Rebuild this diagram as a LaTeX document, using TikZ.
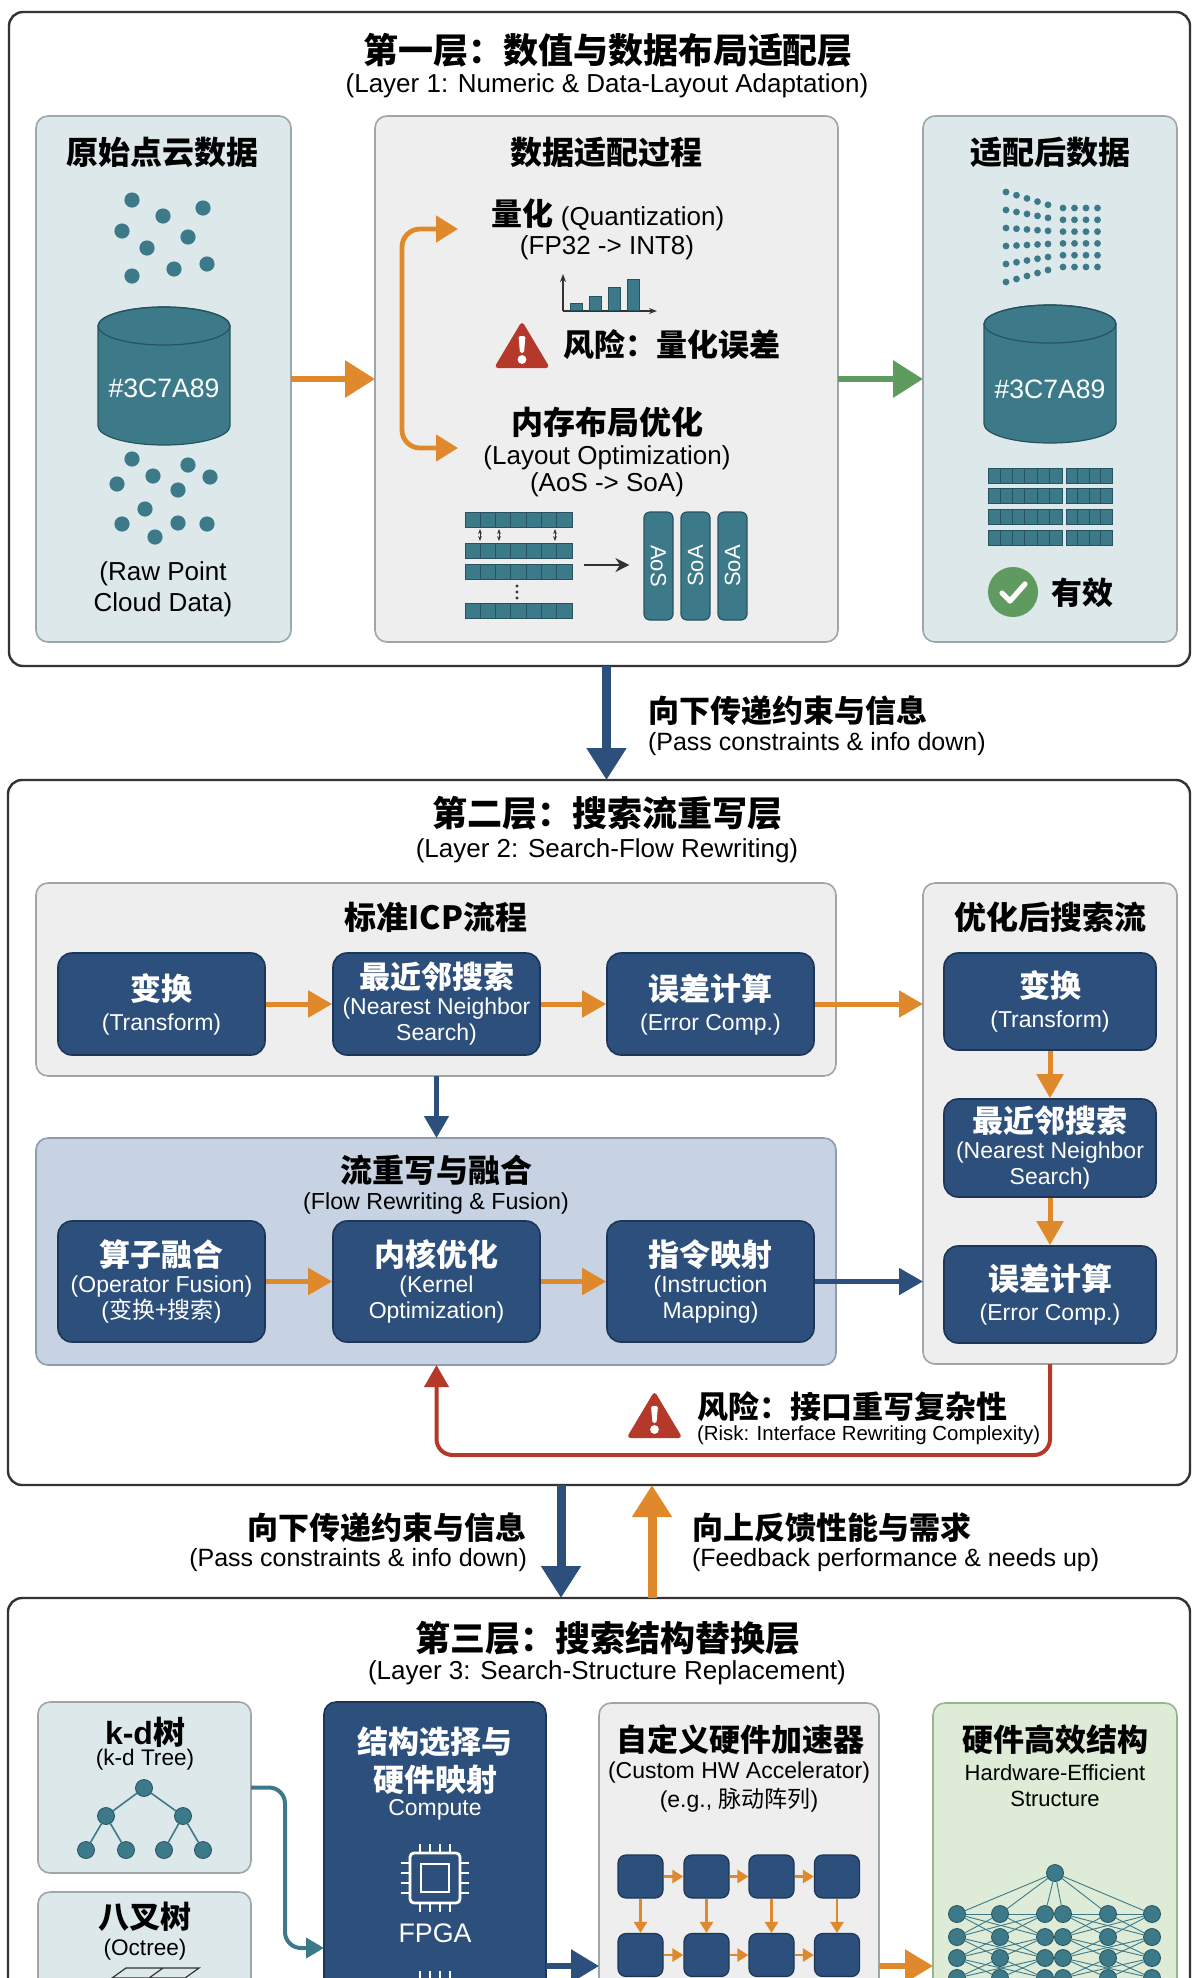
\documentclass[tikz,border=0pt]{standalone}
\usepackage{fontspec}
\setmainfont{Liberation Sans}
\newfontfamily\zhfont{Noto Sans CJK SC}
\usetikzlibrary{arrows.meta,calc,fit,positioning}

\definecolor{lyink}{HTML}{333333}
\definecolor{lyteal}{HTML}{3C7A89}
\definecolor{lytealdark}{HTML}{27535F}
\definecolor{lynavy}{HTML}{2D4F7C}
\definecolor{lynavyedge}{HTML}{1D3557}
\definecolor{lyorange}{HTML}{E0892C}
\definecolor{lygreen}{HTML}{5F9A5F}
\definecolor{lyred}{HTML}{B5392B}
\definecolor{lypanelblue}{HTML}{DDE8EB}
\definecolor{lypanelgrey}{HTML}{EEEEEE}
\definecolor{lyedge}{HTML}{9DA7AB}
\definecolor{lyfusion}{HTML}{C7D2E2}
\definecolor{lyfusionedge}{HTML}{8E9BB0}
\definecolor{lypanelgreen}{HTML}{DDEBD7}
\definecolor{lygreenedge}{HTML}{94B58E}

\newcommand\fsz[2]{\fontsize{#1}{#2}\selectfont}
\newcommand\zhb[1]{{\zhfont\bfseries #1}}

\tikzset{
  layerbox/.style={draw=lyink,line width=1.2pt,fill=white,rounded corners=7pt,
    inner sep=0pt,outer sep=0pt},
  panel/.style={draw=lyedge,line width=0.8pt,rounded corners=6pt,inner sep=0pt,outer sep=0pt},
  bluepanel/.style={panel,fill=lypanelblue},
  greypanel/.style={panel,fill=lypanelgrey},
  fusepanel/.style={panel,fill=lyfusion,draw=lyfusionedge},
  greenpanel/.style={panel,fill=lypanelgreen,draw=lygreenedge},
  navypanel/.style={panel,fill=lynavy,draw=lynavyedge},
  layertitle/.style={font=\zhfont\bfseries\fsz{17.5}{20},text=black},
  layersub/.style={font=\fsz{13}{15},text=black},
  paneltitle/.style={font=\zhfont\bfseries\fsz{16}{19},text=black},
  zhlabel/.style={font=\zhfont\bfseries\fsz{15.5}{18},text=black},
  enlabel/.style={font=\fsz{13}{15.5},text=black},
  dbtag/.style={font=\fsz{13.3}{15},text=white},
  stage/.style={draw=lynavyedge,fill=lynavy,line width=0.8pt,rounded corners=7pt,
    text=white,align=center,inner sep=0pt,minimum width=103.5pt,minimum height=51pt,
    font=\fsz{11.5}{13}},
  soa/.style={fill=lyteal,draw=lytealdark,line width=0.6pt,rounded corners=3pt,
    minimum width=54pt,minimum height=14.5pt,inner sep=0pt,text=white,
    font=\fsz{11}{12}},
  pe/.style={fill=lynavy,draw=lynavyedge,line width=0.6pt,rounded corners=4pt,
    minimum width=22.5pt,minimum height=21.5pt,inner sep=0pt},
  nnode/.style={circle,fill=lyteal,draw=lytealdark,line width=0.4pt,
    minimum size=8.5pt,inner sep=0pt},
  treenode/.style={nnode,minimum size=8.5pt},
  nnlink/.style={draw=lyteal,line width=0.45pt},
  bigflow/.style={draw=lyorange,line width=3.2pt,-{Triangle[length=15pt,width=18pt]}},
  flow/.style={draw=lyorange,line width=2.5pt,-{Triangle[length=12pt,width=13pt]}},
  peflow/.style={draw=lyorange,line width=1.3pt,-{Triangle[length=5.5pt,width=6.5pt]}},
  pass/.style={draw=lynavy,line width=4.5pt,-{Triangle[length=16pt,width=19pt]}},
  navyflow/.style={draw=lynavy,line width=2.5pt,-{Triangle[length=12pt,width=13pt]}},
  feedback/.style={draw=lyred,line width=2pt,rounded corners=8pt,
    -{Triangle[length=11pt,width=12pt]}},
  link/.style={draw=lyteal,line width=2pt,rounded corners=8pt,
    -{Triangle[length=9pt,width=10pt]}},
  dbstore/.pic={
    \path[fill=lyteal,draw=lytealdark,line width=0.6pt] (-66,-50) -- (-66,50)
      arc[start angle=180,end angle=360,x radius=33pt,y radius=9.5pt] -- (66,-50)
      arc[start angle=0,end angle=180,x radius=33pt,y radius=9.5pt] -- cycle;
    \draw[lytealdark,line width=0.6pt] (0,-50) ellipse[x radius=33pt,y radius=9.5pt];
  },
  warnsign/.pic={
    \fill[lyred,rounded corners=2pt] (-28,23) -- (28,23) -- (0,-24) -- cycle;
    \fill[white,rounded corners=0.8pt] (-3.5,-9) -- (3.5,-9) -- (2,8) -- (-2,8) -- cycle;
    \fill[white] (0,14.5) circle[radius=2.2pt];
  },
  okmark/.pic={
    \fill[lygreen] (0,0) circle[radius=12.5pt];
    \draw[white,line width=2.6pt,line cap=round,line join=round] (-11,1) -- (-3,9) -- (12,-8);
  },
  chip/.pic={
    \draw[white,line width=1.4pt,rounded corners=2pt] (-25,-25) rectangle (25,25);
    \draw[white,line width=1.4pt] (-14,-14) rectangle (14,14);
    \foreach \t in {-15,-5,5,15}
      \draw[white,line width=1.2pt] (\t,-25) -- (\t,-34) (\t,25) -- (\t,34)
        (-25,\t) -- (-34,\t) (25,\t) -- (34,\t);
  },
}

\begin{document}
\begin{tikzpicture}[x=0.5pt,y=-0.5pt]
  \useasboundingbox (0,0) rectangle (1195,1978);
  \clip (0,0) rectangle (1195,1978);
  \fill[white] (0,0) rectangle (1195,1978);

  % ---------------- layer 1 ----------------
  \node[layerbox,fit={(9,12) (1190,666)}] (L1) {};
  \node[layertitle] (t1) at (608,50) {第一层：数值与数据布局适配层};
  \node[layersub] (s1) at (607,86) {(Layer 1: Numeric \& Data-Layout Adaptation)};

  \node[bluepanel,fit={(36,116) (291,642)}] (raw) {};
  \node[greypanel,fit={(375,116) (838,642)}] (adapt) {};
  \node[bluepanel,fit={(923,116) (1177,642)}] (adapted) {};
  \node[paneltitle] (rawtitle) at (163,152) {原始点云数据};
  \node[paneltitle] (adapttitle) at (606,152) {数据适配过程};
  \node[paneltitle] (adaptedtitle) at (1050,152) {适配后数据};

  % scattered points around the raw store
  \foreach \x/\y in {132/200,163/216,203/208,122/231,188/237,147/248,132/276,174/269,207/264,
      132/459,153/476,188/465,210/477,117/484,178/490,145/509,178/523,122/524,155/537,207/524}
    \fill[lyteal] (\x,\y) circle[radius=3.8pt];
  \pic at (164,376) {dbstore};
  \node[dbtag] (rawtag) at (164,388) {\#3C7A89};
  \node[enlabel,align=center] (rawen) at (163,589) {(Raw Point\\Cloud Data)};

  \draw[bigflow] (raw) -- (adapt);
  \draw[bigflow,draw=lygreen] (adapt) -- (adapted);

  % quantization branch
  \node[enlabel] (quant) at (608,215) {\zhb{\fsz{15.5}{18}量化} (Quantization)};
  \node[enlabel] (fp) at (607,248) {(FP32 -> INT8)};
  \draw[lyink,line width=0.7pt,-{Stealth[length=4pt]}] (563,311) -- (563,274);
  \draw[lyink,line width=0.7pt,-{Stealth[length=4pt]}] (563,311) -- (657,311);
  \foreach \x/\t in {570/303,589/296,608/287,627/279}
    \draw[fill=lyteal,draw=lytealdark,line width=0.4pt] (\x,\t) rectangle (\x+12,310);
  \pic at (522,345) {warnsign};
  \node[zhlabel,anchor=west] (qrisk) at (556,345) {风险：量化误差};

  % layout branch
  \node[zhlabel,font=\zhfont\bfseries\fsz{16}{18}] (layout) at (607,422) {内存布局优化};
  \node[enlabel] (layouten) at (607,458) {(Layout Optimization)};
  \node[enlabel] (aos) at (607,485) {(AoS -> SoA)};
  \coordinate (qin) at (458,229);
  \coordinate (lin) at (458,448);
  \draw[flow,line width=2.4pt,{Triangle[length=11pt,width=13pt]}-{Triangle[length=11pt,width=13pt]},
    rounded corners=9pt] (qin) -| (402,340) |- (lin);

  \foreach \y in {512,543,564,603} {
    \draw[fill=lyteal,draw=lytealdark,line width=0.5pt] (465,\y) rectangle (572,\y+15);
    \foreach \i in {1,...,6}
      \draw[lytealdark,line width=0.5pt] (465+\i*15.3,\y) -- (465+\i*15.3,\y+15);
  }
  \foreach \y in {586,592,598} \fill[lyink] (517,\y) circle[radius=0.8pt];
  \foreach \x in {480,499,555}
    \draw[lyink,line width=0.4pt,{Stealth[length=2.5pt]}-{Stealth[length=2.5pt]}] (\x,529) -- (\x,541);
  \node[soa,rotate=-90] (soa1) at (658.5,566) {AoS};
  \node[soa,rotate=90] (soa2) at (695.5,566) {SoA};
  \node[soa,rotate=90] (soa3) at (732.5,566) {SoA};
  \coordinate (aosend) at (584,565);
  \draw[lyink,line width=0.9pt,-{Stealth[length=7pt,width=7pt]},shorten >=7pt]
    (aosend) -- (aosend -| soa1.south);

  % adapted data
  \foreach \r in {0,...,5} {
    \foreach \j in {0,...,4}
      \fill[lyteal] ({1006+10.5*\j},{192+18*\r+(16-6.2*\r)*\j/5}) circle[radius=1.7pt];
    \foreach \c in {0,...,3}
      \fill[lyteal] ({1063+11.5*\c},{208+11.8*\r}) circle[radius=1.7pt];
  }
  \pic at (1050,374) {dbstore};
  \node[dbtag] (donetag) at (1050,389) {\#3C7A89};
  \foreach \y in {468,488,509,530} {
    \draw[fill=lyteal,draw=lytealdark,line width=0.5pt] (988,\y) rectangle (1062,\y+15);
    \foreach \i in {1,...,5}
      \draw[lytealdark,line width=0.5pt] (988+\i*12.3,\y) -- (988+\i*12.3,\y+15);
    \draw[fill=lyteal,draw=lytealdark,line width=0.5pt] (1066,\y) rectangle (1112,\y+15);
    \foreach \i in {1,...,3}
      \draw[lytealdark,line width=0.5pt] (1066+\i*11.5,\y) -- (1066+\i*11.5,\y+15);
  }
  \pic at (1013,592) {okmark};
  \node[zhlabel] (valid) at (1082,593) {有效};

  % ---------------- layer 2 ----------------
  \node[layerbox,fit={(8,780) (1190,1485)}] (L2) {};
  \draw[pass] (adapt.south |- L1.south) -- (adapt.south |- L2.north);
  \node[zhlabel,anchor=west] (down1) at (641,711) {向下传递约束与信息};
  \node[font=\fsz{12.5}{14},anchor=west] (down1en) at (641,744) {(Pass constraints \& info down)};

  \node[layertitle] (t2) at (607,813) {第二层：搜索流重写层};
  \node[layersub] (s2) at (607,851) {(Layer 2: Search-Flow Rewriting)};

  \node[greypanel,fit={(36,883) (836,1076)}] (icp) {};
  \node[greypanel,fit={(923,883) (1177,1364)}] (opt) {};
  \node[fusepanel,fit={(36,1138) (836,1365)}] (fusion) {};
  \node[paneltitle] (icptitle) at (436,917) {标准ICP流程};
  \node[paneltitle] (opttitle) at (1050,917) {优化后搜索流};
  \node[paneltitle] (fusetitle) at (436,1170) {流重写与融合};
  \node[font=\fsz{11.6}{13}] (fuseen) at (436,1203) {(Flow Rewriting \& Fusion)};

  \node[stage] (tf) at (161.5,1004) {\zhb{\fsz{15.5}{18}变换}\\[2pt](Transform)};
  \node[stage] (nn) at (436.5,1004) {\zhb{\fsz{15.5}{18}最近邻搜索}\\[0pt](Nearest Neighbor\\Search)};
  \node[stage] (err) at (710.5,1004) {\zhb{\fsz{15.5}{18}误差计算}\\[2pt](Error Comp.)};
  \draw[flow] (tf) -- (nn);
  \draw[flow] (nn) -- (err);
  \draw[flow] (err) -- (err -| opt.west);

  \node[stage,minimum width=106pt,minimum height=48.5pt] (otf) at (1050,1001.5)
    {\zhb{\fsz{15.5}{18}变换}\\[2pt](Transform)};
  \node[stage,minimum width=106pt,minimum height=49pt] (onn) at (1050,1148)
    {\zhb{\fsz{15.5}{18}最近邻搜索}\\[0pt](Nearest Neighbor\\Search)};
  \node[stage,minimum width=106pt,minimum height=48.5pt] (oerr) at (1050,1294.5)
    {\zhb{\fsz{15.5}{18}误差计算}\\[2pt](Error Comp.)};
  \draw[flow] (otf) -- (onn);
  \draw[flow] (onn) -- (oerr);

  \draw[navyflow,line width=2.3pt,-{Triangle[length=11pt,width=12pt]}]
    (icp.south -| nn) -- (fusion.north -| nn);

  \node[stage,minimum height=60.5pt] (fuse) at (161.5,1281.5)
    {\zhb{\fsz{15.5}{18}算子融合}\\[0pt](Operator Fusion)\\({\zhfont 变换+搜索})};
  \node[stage,minimum height=60.5pt] (kern) at (436.5,1281.5)
    {\zhb{\fsz{15.5}{18}内核优化}\\[0pt](Kernel\\Optimization)};
  \node[stage,minimum height=60.5pt] (inst) at (710.5,1281.5)
    {\zhb{\fsz{15.5}{18}指令映射}\\[0pt](Instruction\\Mapping)};
  \draw[flow] (fuse) -- (kern);
  \draw[flow] (kern) -- (inst);
  \draw[navyflow] (inst) -- (inst -| opt.west);

  % rewriting risk feeds back into the fusion stage
  \draw[feedback] (opt.south) -- ++(0,91) -| (fusion.south -| kern);
  \pic at (654.5,1415) {warnsign};
  \node[zhlabel,anchor=west] (rwrisk) at (690,1407) {风险：接口重写复杂性};
  \node[font=\fsz{10.2}{12},anchor=west] (rwriskb) at (690,1435) {(Risk: Interface Rewriting Complexity)};

  % ---------------- layer 3 ----------------
  \node[layerbox,fit={(8,1598) (1190,2060)}] (L3) {};
  \coordinate (downx) at (561,0);
  \coordinate (upx) at (652,0);
  \draw[pass] (L2.south -| downx) -- (L3.north -| downx);
  \draw[pass,draw=lyorange] (L3.north -| upx) -- (L2.south -| upx);
  \node[zhlabel,anchor=east] (down2) at (534,1528) {向下传递约束与信息};
  \node[font=\fsz{12.5}{14},anchor=east] (down2en) at (534,1560) {(Pass constraints \& info down)};
  \node[zhlabel,anchor=west] (up2) at (685,1528) {向上反馈性能与需求};
  \node[font=\fsz{12.5}{14},anchor=west] (up2en) at (685,1560) {(Feedback performance \& needs up)};

  \node[layertitle] (t3) at (608,1638) {第三层：搜索结构替换层};
  \node[layersub] (s3) at (607,1673) {(Layer 3: Search-Structure Replacement)};

  \node[bluepanel,fit={(38,1702) (251,1873)}] (kd) {};
  \node[bluepanel,fit={(38,1892) (251,2060)}] (oct) {};
  \node[navypanel,fit={(324,1702) (546,2060)}] (sel) {};
  \node[greypanel,fit={(599,1703) (879,2060)}] (hw) {};
  \node[greenpanel,fit={(933,1703) (1177,2060)}] (eff) {};

  \node[font=\bfseries\fsz{16}{18}] (kdtitle) at (145,1732) {k-d{\zhfont 树}};
  \node[font=\fsz{11.3}{13}] (kden) at (145,1760) {(k-d Tree)};
  \node[treenode] (k0) at (144,1788) {};
  \node[treenode] (k1) at (106,1816) {};
  \node[treenode] (k2) at (183,1816) {};
  \node[treenode] (k3) at (86,1850) {};
  \node[treenode] (k4) at (126,1850) {};
  \node[treenode] (k5) at (164,1850) {};
  \node[treenode] (k6) at (203,1850) {};
  \foreach \a/\b in {k0/k1,k0/k2,k1/k3,k1/k4,k2/k5,k2/k6}
    \draw[draw=lyteal,line width=0.8pt] (\a) -- (\b);

  \node[paneltitle,font=\zhfont\bfseries\fsz{15.5}{18}] (octtitle) at (145,1917) {八叉树};
  \node[font=\fsz{11.3}{13}] (octen) at (145,1950) {(Octree)};
  \draw[lyink,line width=0.6pt] (112,1978) -- (126,1968) -- (199,1968) -- (185,1978) -- cycle
    (149,1978) -- (163,1968) (112,1978) rectangle (185,2030) (149,1978) -- (149,2030);

  \coordinate (selin) at (324,1948);
  \draw[link] (kd.east) -- ++(34,0) |- (selin);

  \node[zhlabel,text=white] (selA) at (435,1742) {结构选择与};
  \node[zhlabel,text=white] (selB) at (435,1780) {硬件映射};
  \node[font=\fsz{11.5}{13},text=white] (selC) at (435,1810) {Compute};
  \pic at (435,1878) {chip};
  \node[font=\fsz{13.4}{15},text=white] (fpga) at (435,1933) {FPGA};
  \pic at (435,2005) {chip};

  \node[zhlabel] (hwtitle) at (740,1740) {自定义硬件加速器};
  \node[font=\fsz{11.5}{13}] (hwen) at (739,1773) {(Custom HW Accelerator)};
  \node[font=\fsz{11.5}{13}] (hweg) at (739,1800) {(e.g., {\zhfont 脉动阵列})};
  \foreach \c/\x in {1/640.5,2/706.5,3/771.5,4/837}
    \foreach \r/\y in {1/1876.5,2/1955}
      \node[pe] (pe-\r-\c) at (\x,\y) {};
  \foreach \r in {1,2}
    \foreach \c/\n in {1/2,2/3,3/4}
      \draw[peflow] (pe-\r-\c) -- (pe-\r-\n);
  \foreach \c in {1,...,4}
    \draw[peflow] (pe-1-\c) -- (pe-2-\c);

  % small network: apex, then two meshed groups of three columns
  \node[zhlabel] (efftitle) at (1055,1740) {硬件高效结构};
  \node[font=\fsz{11}{13}] (effA) at (1055,1773) {Hardware-Efficient};
  \node[font=\fsz{11}{13}] (effB) at (1055,1799) {Structure};
  \node[nnode] (n0) at (1055,1873) {};
  \foreach \r/\y in {1/1914,2/1937,3/1958,4/1978}
    \foreach \i/\x in {1/957,2/1000,3/1045,4/1063,5/1108,6/1152}
      \node[nnode] (n\r-\i) at (\x,\y) {};
  \foreach \i in {1,...,6} \draw[nnlink] (n0) -- (n1-\i);
  \draw[nnlink] (n1-1) -- (n1-2) -- (n1-3) -- (n1-4) -- (n1-5) -- (n1-6);
  \foreach \r/\s in {1/2,2/3,3/4}
    \foreach \i/\j in {1/2,2/1,2/3,3/2,1/3,3/1,4/5,5/4,5/6,6/5,4/6,6/4}
      \draw[nnlink] (n\r-\i) -- (n\s-\j);

  \coordinate (lowrow) at (0,1966);
  \draw[pass,line width=3pt,-{Triangle[length=14pt,width=16pt]}]
    (sel.east |- lowrow) -- (hw.west |- lowrow);
  \draw[pass,draw=lyorange,line width=3pt,-{Triangle[length=14pt,width=16pt]}]
    (hw.east |- lowrow) -- (eff.west |- lowrow);
\end{tikzpicture}
\end{document}
